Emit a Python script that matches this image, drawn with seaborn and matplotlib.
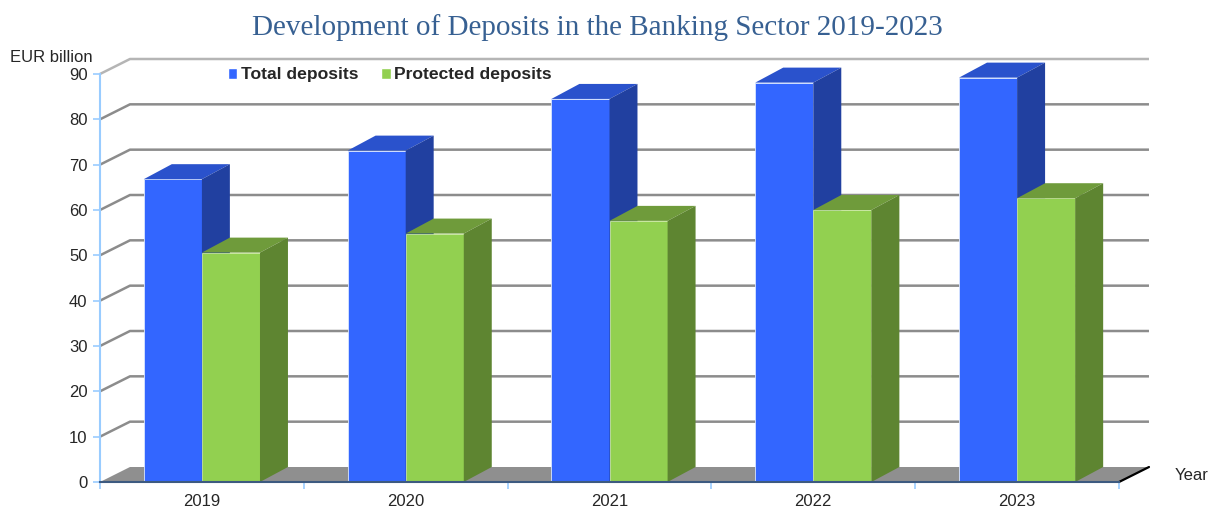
import matplotlib
matplotlib.use("Agg")
import matplotlib.pyplot as plt
from matplotlib.patches import Polygon, Patch
import seaborn as sns
import pandas as pd

years = ["2019", "2020", "2021", "2022", "2023"]
total_deposits = [66.8, 73.1, 84.5, 88.1, 89.2]
protected_deposits = [50.6, 54.8, 57.6, 60.0, 62.6]
series_names = ["Total deposits", "Protected deposits"]
y_ticks = [0, 10, 20, 30, 40, 50, 60, 70, 80, 90]

front_colors = ["#3366ff", "#92d050"]
top_colors = ["#2a52cc", "#6f9b3b"]
side_colors = ["#2140a0", "#5e8531"]

df = pd.DataFrame({
    "year": years * 2,
    "value": total_deposits + protected_deposits,
    "series": [series_names[0]] * len(years) + [series_names[1]] * len(years),
})

sns.set_style("white")
plt.rcParams["font.family"] = ["Liberation Sans", "DejaVu Sans"]

fig = plt.figure(figsize=(12.12, 5.12), dpi=100)
ax = fig.add_axes([100 / 1212, 30 / 512, 1050 / 1212, 423 / 512])

sns.barplot(data=df, x="year", y="value", hue="series", palette=front_colors,
            width=0.57, ax=ax, legend=False, saturation=1, errorbar=None)

n = len(years)
dx = 28 / 204.0          # depth offset in category units
dy = 15 / 4.535          # depth offset in value units
gdx = 30 / 204.0

ax.set_xlim(-0.5, n - 0.5 + gdx + 0.005)
ax.set_ylim(0, 90 + dy)

# back wall gridlines
grid_c = "#8c8c8c"
for v in y_ticks[1:]:
    lc = "#b5b5b5" if v == 90 else grid_c
    ax.plot([-0.5, -0.5 + gdx, n - 0.5 + gdx], [v, v + dy, v + dy],
            color=lc, lw=1.8, zorder=0.5, clip_on=False, solid_capstyle="butt")

# floor
floor = Polygon([(-0.5, 0), (n - 0.5, 0), (n - 0.5 + gdx, dy), (-0.5 + gdx, dy)],
                closed=True, facecolor="#8f8f8f", edgecolor="none", zorder=1)
ax.add_patch(floor)
ax.plot([n - 0.5, n - 0.5 + gdx], [0, dy], color="black", lw=1.6, zorder=2,
        clip_on=False)

# 3D faces derived from seaborn bars
for j, cont in enumerate(ax.containers):
    for i, rect in enumerate(cont.patches):
        x0 = rect.get_x()
        w = rect.get_width()
        h = rect.get_height()
        z = 3 + i * 3 + j * 1.5
        rect.set_zorder(z)
        rect.set_edgecolor("#d9e6ff" if j == 0 else "#c8e6a0")
        rect.set_linewidth(0.6)
        top = Polygon([(x0, h), (x0 + w, h), (x0 + w + dx, h + dy), (x0 + dx, h + dy)],
                      closed=True, facecolor=top_colors[j], edgecolor="none",
                      zorder=z + 0.1)
        side = Polygon([(x0 + w, 0), (x0 + w + dx, dy), (x0 + w + dx, h + dy), (x0 + w, h)],
                       closed=True, facecolor=side_colors[j], edgecolor="none",
                       zorder=z + 0.1)
        ax.add_patch(top)
        ax.add_patch(side)

# spines and ticks
for s in ["top", "right"]:
    ax.spines[s].set_visible(False)
ax.spines["left"].set_bounds(0, 90)
ax.spines["left"].set_color("#99ccff")
ax.spines["left"].set_linewidth(1.5)
ax.spines["bottom"].set_bounds(-0.5, n - 0.5)
ax.spines["bottom"].set_color("#3d5a80")
ax.spines["bottom"].set_linewidth(1.5)
ax.spines["bottom"].set_zorder(50)

ax.set_yticks(y_ticks)
ax.set_yticklabels([str(t) for t in y_ticks], fontsize=12)
ax.tick_params(axis="y", length=5, width=1.2, color="#99ccff", pad=4, left=True)

ax.set_xticks(range(n))
ax.set_xticklabels(years, fontsize=12)
ax.set_xticks([k - 0.5 for k in range(n + 1)], minor=True)
ax.tick_params(axis="x", which="major", length=0, pad=9)
ax.tick_params(axis="x", which="minor", length=5, width=1.2, color="#99ccff",
               bottom=True)
ax.set_xlabel("")
ax.set_ylabel("")
ax.grid(False)

# legend
handles = [Patch(facecolor=front_colors[0], label=series_names[0]),
           Patch(facecolor=front_colors[1], label=series_names[1])]
fig.legend(handles=handles, loc="center left", bbox_to_anchor=(212 / 1212, 1 - 75 / 512),
           ncol=2, frameon=False, handlelength=0.55, handleheight=0.55,
           handletextpad=0.2, columnspacing=1.3, prop={"weight": "bold", "size": 12.6})

# texts
fig.text(597 / 1212, 1 - 28 / 512, "Development of Deposits in the Banking Sector 2019-2023",
         ha="center", va="center", fontsize=21, color="#376092",
         family=["Liberation Serif", "DejaVu Serif"])
fig.text(10 / 1212, 1 - 57 / 512, "EUR billion", ha="left", va="center", fontsize=12)
fig.text(1175 / 1212, 1 - 475 / 512, "Year", ha="left", va="center", fontsize=12)

fig.savefig("out.png", dpi=100)
